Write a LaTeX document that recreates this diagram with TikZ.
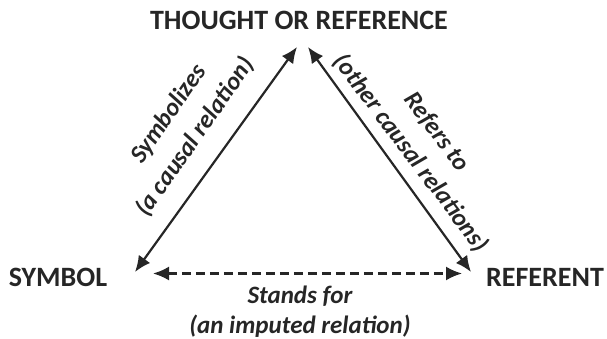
\documentclass[tikz,border=0pt]{standalone}
\usepackage{fontspec}
\setmainfont{Carlito}
\usetikzlibrary{arrows.meta}
\begin{document}
\begin{tikzpicture}[x=1pt,y=1pt,
  corner/.style={font=\bfseries\fontsize{28}{32}\selectfont, text=black!85, inner sep=0pt},
  lab/.style={font=\bfseries\itshape\fontsize{25}{30}\selectfont, text=black!85, inner sep=0pt},
  rel/.style={line width=2.2pt, black!85, {Latex[length=16pt,width=14pt]}-{Latex[length=16pt,width=14pt]}},
  imp/.style={rel, dash pattern=on 9pt off 5pt}]
\useasboundingbox (0,0) rectangle (607,338);
\node[corner] (t) at (299,318) {THOUGHT OR REFERENCE};
\node[corner] (s) at (58,61) {SYMBOL};
\node[corner] (r) at (545,61) {REFERENT};
\coordinate (ls) at (135,66);
\coordinate (lt) at (297,291);
\coordinate (rt) at (308,291);
\coordinate (rr) at (471,66);
\coordinate (ds) at (153,64.5);
\coordinate (dr) at (462,64.5);
\draw[rel] (ls) -- (lt);
\draw[rel] (rt) -- (rr);
\draw[imp] (ds) -- (dr);
\node[lab, rotate=55] (l1) at (169,224) {Symbolizes};
\node[lab, rotate=55] (l2) at (195,201) {(a causal relation)};
\node[lab, rotate=-53] (l3) at (437,206) {Refers to};
\node[lab, rotate=-53] (l4) at (411,185) {(other causal relations)};
\node[lab, anchor=base] (l5) at (300,35) {Stands for};
\node[lab, anchor=base] (l6) at (300,5) {(an imputed relation)};
\end{tikzpicture}
\end{document}
